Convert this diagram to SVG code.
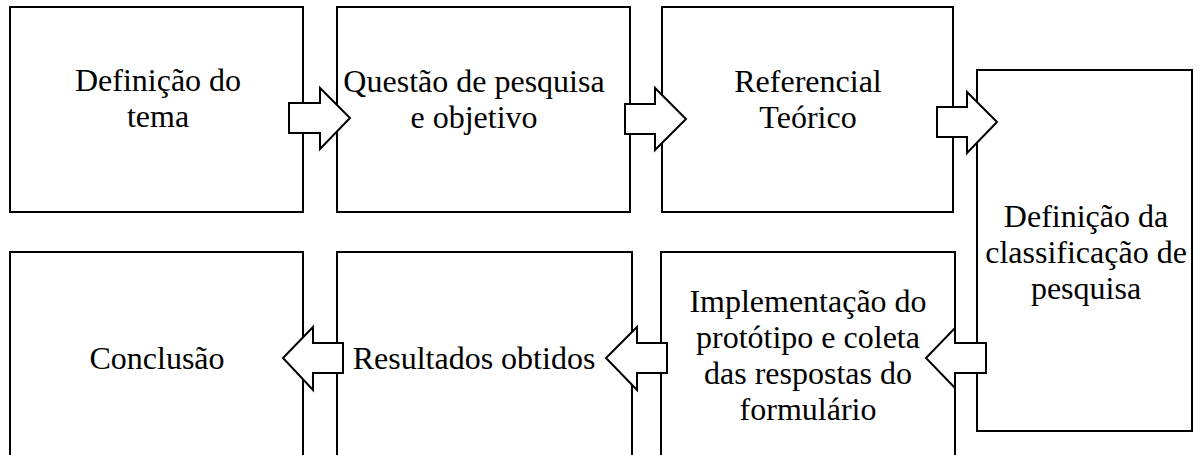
<svg xmlns="http://www.w3.org/2000/svg" width="1200" height="455" viewBox="0 0 1200 455">
<style>
.box{fill:#fff;stroke:#000;stroke-width:2}
.arr{fill:#fff;stroke:#000;stroke-width:2;stroke-linejoin:miter}
.t{font-family:"Liberation Serif","Times New Roman",serif;font-size:32px;fill:#000;text-anchor:middle}
</style>
<rect width="1200" height="455" fill="#fff"/>
<g id="n1"><rect class="box" x="10" y="7" width="293" height="205"/>
<text class="t" x="157"><tspan x="158" y="91">Definição do</tspan><tspan x="158" y="127">tema</tspan></text></g>
<g id="n2"><rect class="box" x="337" y="7" width="293" height="205"/>
<text class="t"><tspan x="474" y="92">Questão de pesquisa</tspan><tspan x="474" y="128">e objetivo</tspan></text></g>
<g id="n3"><rect class="box" x="662" y="7" width="291" height="205"/>
<text class="t"><tspan x="808" y="92">Referencial</tspan><tspan x="808" y="128">Teórico</tspan></text></g>
<g id="n4"><rect class="box" x="977" y="70" width="215" height="361"/>
<text class="t"><tspan x="1086" y="227">Definição da</tspan><tspan x="1086" y="263">classificação de</tspan><tspan x="1086" y="299">pesquisa</tspan></text></g>
<g id="n5"><rect class="box" x="661" y="252" width="294" height="220"/>
<text class="t"><tspan x="808" y="312">Implementação do</tspan><tspan x="808" y="348">protótipo e coleta</tspan><tspan x="808" y="384">das respostas do</tspan><tspan x="808" y="420">formulário</tspan></text></g>
<g id="n6"><rect class="box" x="337" y="252" width="295" height="220"/>
<text class="t"><tspan x="474" y="369">Resultados obtidos</tspan></text></g>
<g id="n7"><rect class="box" x="10" y="252" width="293" height="220"/>
<text class="t"><tspan x="157" y="369">Conclusão</tspan></text></g>
<g id="connectors">
<polygon class="arr" points="289,103 320,103 320,88 350,118 320,149 320,133 289,133"/>
<polygon class="arr" points="625,104 655,104 655,88 686,119 655,150 655,134 625,134"/>
<polygon class="arr" points="937,107 967,107 967,92 997,122 967,153 967,137 937,137"/>
<polygon class="arr" points="986,343 955,343 955,328 926,358 955,388 955,373 986,373"/>
<polygon class="arr" points="667,343 637,343 637,327 606,358 637,390 637,373 667,373"/>
<polygon class="arr" points="343,343 313,343 313,327 283,358 313,390 313,373 343,373"/>
</g>
</svg>
